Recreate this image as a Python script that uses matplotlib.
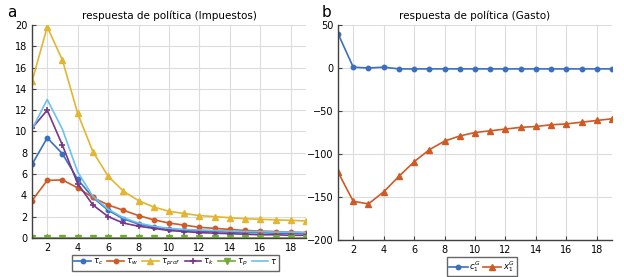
import numpy as np
import matplotlib.pyplot as plt

# periods
t = np.arange(1, 20)

# panel a: tax responses
tau_c = [6.9, 9.4, 7.9, 5.5, 3.8, 2.6, 1.8, 1.3, 1.0, 0.85, 0.7, 0.65, 0.6, 0.55, 0.5, 0.5, 0.45, 0.45, 0.4]
tau_w = [3.5, 5.4, 5.45, 4.7, 3.8, 3.1, 2.6, 2.1, 1.7, 1.4, 1.2, 1.0, 0.9, 0.8, 0.7, 0.65, 0.6, 0.55, 0.5]
tau_prof = [14.7, 19.8, 16.7, 11.7, 8.1, 5.8, 4.4, 3.5, 2.9, 2.5, 2.3, 2.1, 2.0, 1.9, 1.8, 1.75, 1.7, 1.65, 1.6]
tau_k = [10.3, 12.0, 8.7, 5.1, 3.1, 2.0, 1.4, 1.1, 0.9, 0.7, 0.6, 0.5, 0.45, 0.4, 0.35, 0.3, 0.3, 0.25, 0.25]
tau_p = [0.0] * 19
tau = [10.2, 13.0, 10.2, 6.2, 3.9, 2.7, 1.9, 1.4, 1.1, 0.9, 0.8, 0.75, 0.7, 0.65, 0.6, 0.6, 0.55, 0.55, 0.5]

# panel b: spending responses
c1G = [40, 1, 0, 1, -1, -1, -1, -1, -1, -1, -1, -1, -1, -1, -1, -1, -1, -1, -1]
x1G = [-121, -155, -158, -144, -126, -109, -95, -85, -79, -75, -73, -71, -69, -68, -66, -65, -63, -61, -59]

cols = ['#3a6fc0', '#cf5a25', '#e3b530', '#7a3589', '#72aa3a', '#6cc0ec']

fig = plt.figure(figsize=(6.24, 2.77), dpi=100)
ax1 = fig.add_axes([0.0513, 0.141, 0.439, 0.769])
ax2 = fig.add_axes([0.5417, 0.1336, 0.439, 0.776])

ms = 3.2
ax1.plot(t, tau_c, '-o', color=cols[0], ms=ms, lw=1.2, label=r'$\tau_c$')
ax1.plot(t, tau_w, '-o', color=cols[1], ms=ms, lw=1.2, label=r'$\tau_w$')
ax1.plot(t, tau_prof, '-^', color=cols[2], ms=ms + 0.5, lw=1.2, label=r'$\tau_{prof}$')
ax1.plot(t, tau_k, '-+', color=cols[3], ms=ms + 1, mew=1.2, lw=1.2, label=r'$\tau_k$')
ax1.plot(t, tau_p, '-v', color=cols[4], ms=ms + 0.5, lw=1.2, label=r'$\tau_p$')
ax1.plot(t, tau, '-', color=cols[5], lw=1.2, label=r'$\tau$')

ax2.plot(t, c1G, '-o', color=cols[0], ms=ms, lw=1.2, label=r'$c_1^G$')
ax2.plot(t, x1G, '-^', color=cols[1], ms=ms + 0.5, lw=1.2, label=r'$x_1^G$')

for ax in (ax1, ax2):
    ax.set_xlim(1, 19)
    ax.set_xticks(np.arange(2, 19, 2))
    ax.grid(True, color='#dcdcdc', lw=0.8)
    ax.set_axisbelow(True)
    for s in ('top', 'right'):
        ax.spines[s].set_visible(False)
    for s in ('left', 'bottom'):
        ax.spines[s].set_color('#404040')
        ax.spines[s].set_linewidth(1.0)
    ax.tick_params(labelsize=7, direction='in', length=3, color='#404040')

ax1.set_ylim(0, 20)
ax1.set_yticks(np.arange(0, 21, 2))
ax2.set_ylim(-200, 50)
ax2.set_yticks(np.arange(-200, 51, 50))
ax2.set_yticklabels(['\u2212200', '\u2212150', '\u2212100', '\u221250', '0', '50'])

ax1.set_title('respuesta de política (Impuestos)', fontsize=7.5, pad=4)
ax2.set_title('respuesta de política (Gasto)', fontsize=7.5, pad=4)

fig.text(0.012, 0.955, 'a', fontsize=11, va='center')
fig.text(0.515, 0.955, 'b', fontsize=11, va='center')

leg1 = ax1.legend(loc='upper center', bbox_to_anchor=(0.525, -0.06), ncol=6, fontsize=6,
                  frameon=True, fancybox=False, edgecolor='#404040', handlelength=2.0,
                  columnspacing=0.5, handletextpad=0.25, borderpad=0.25)
leg2 = ax2.legend(loc='upper center', bbox_to_anchor=(0.526, -0.06), ncol=2, fontsize=6,
                  frameon=True, fancybox=False, edgecolor='#404040', handlelength=2.2,
                  columnspacing=0.3, handletextpad=0.2, borderpad=0.25)

fig.savefig('out.png', dpi=100)
